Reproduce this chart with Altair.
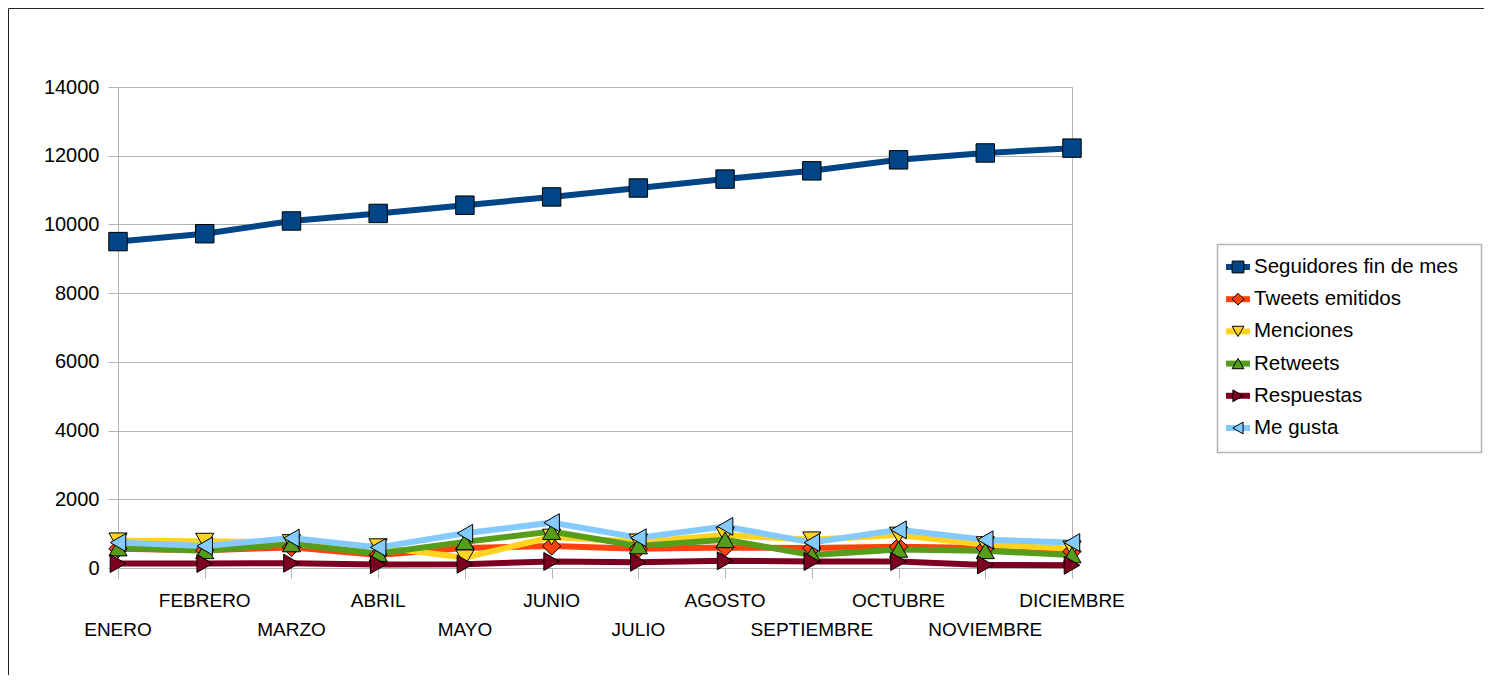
import altair as alt
import pandas as pd

months = ["ENERO", "FEBRERO", "MARZO", "ABRIL", "MAYO", "JUNIO", "JULIO",
          "AGOSTO", "SEPTIEMBRE", "OCTUBRE", "NOVIEMBRE", "DICIEMBRE"]
series = ["Seguidores fin de mes", "Tweets emitidos", "Menciones",
          "Retweets", "Respuestas", "Me gusta"]

seguidores = [9500, 9730, 10100, 10320, 10560, 10800, 11060, 11320, 11560, 11880, 12080, 12220]
tweets = [560, 520, 600, 380, 580, 640, 560, 600, 580, 620, 580, 480]
menciones = [790, 780, 740, 620, 300, 900, 760, 960, 820, 960, 680, 560]
retweets = [580, 500, 700, 420, 760, 1060, 640, 820, 380, 540, 500, 380]
respuestas = [130, 130, 140, 100, 110, 190, 170, 210, 190, 190, 90, 80]
me_gusta = [740, 640, 870, 600, 1010, 1320, 880, 1210, 740, 1110, 820, 740]

y_ticks = [0, 2000, 4000, 6000, 8000, 10000, 12000, 14000]

colors = ["#004586", "#ff420e", "#ffd320", "#579d1c", "#7e0021", "#83caff"]
shapes = ["square", "diamond", "triangle-down", "triangle-up", "triangle-right", "triangle-left"]
sizes = [340, 320, 390, 390, 390, 390]

all_vals = [seguidores, tweets, menciones, retweets, respuestas, me_gusta]
rows = []
for s_i, (name, vals) in enumerate(zip(series, all_vals)):
    for m_i, v in enumerate(vals):
        rows.append({"serie": name, "s": s_i, "i": m_i, "mes": months[m_i], "valor": v})
df = pd.DataFrame(rows)
months_df = pd.DataFrame({"i": list(range(len(months))), "mes": months})
legend_df = pd.DataFrame({"serie": series, "li": list(range(len(series)))})

FONT = "Liberation Sans"
GRID = "#b3b3b3"
W, H = 954, 481

x_scale = alt.Scale(domain=[0, 11], nice=False, zero=False)
x_axis = alt.Axis(values=list(range(12)), labels=False, tickSize=10, tickColor=GRID,
                  domainColor=GRID, grid=False, title=None)
x_enc = alt.X("i:Q", scale=x_scale, axis=x_axis)

y_scale = alt.Scale(domain=[0, 14000], nice=False)
y_axis = alt.Axis(values=y_ticks, format="d", grid=True, gridColor=GRID, tickSize=10,
                  tickColor=GRID, domainColor=GRID, labelFontSize=20, labelFont=FONT,
                  labelColor="black", labelPadding=9, title=None)

color_enc = alt.Color("serie:N", scale=alt.Scale(domain=series, range=colors), legend=None)
shape_enc = alt.Shape("serie:N", scale=alt.Scale(domain=series, range=shapes), legend=None)
size_enc = alt.Size("serie:N", scale=alt.Scale(domain=series, range=sizes), legend=None)

one = alt.Data(values=[{"a": 1}])

border = alt.Chart(one).mark_rect(filled=False, stroke="#222", strokeWidth=1).encode(
    x=alt.value(-109.5), x2=alt.value(1500), y=alt.value(-78.5), y2=alt.value(700))

legend_box = alt.Chart(one).mark_rect(fill="white", stroke=GRID, strokeWidth=1.5).encode(
    x=alt.value(1099.5), x2=alt.value(1363.5), y=alt.value(157.5), y2=alt.value(365.5))

lines = alt.Chart(df).mark_line(strokeWidth=6).encode(
    x=x_enc, y=alt.Y("valor:Q", scale=y_scale, axis=y_axis), color=color_enc,
    order="i:Q")

points = alt.Chart(df).mark_point(filled=True, stroke="black", strokeWidth=1, opacity=1).encode(
    x=x_enc, y=alt.Y("valor:Q", scale=y_scale, axis=None),
    color=color_enc, shape=shape_enc, size=size_enc)

label_base = alt.Chart(months_df).mark_text(fontSize=19, font=FONT, baseline="middle",
                                            align="center", color="black")
labels_top = label_base.transform_filter("datum.i % 2 == 1").encode(
    x=x_enc, y=alt.value(514), text="mes:N")
labels_bottom = label_base.transform_filter("datum.i % 2 == 0").encode(
    x=x_enc, y=alt.value(543), text="mes:N")

leg_scale = alt.Scale(domain=[0, 5], range=[180, 341])
leg_y = alt.Y("li:Q", scale=leg_scale, axis=None)

leg_lines = alt.Chart(legend_df).mark_rule(strokeWidth=6).encode(
    x=alt.value(1108), x2=alt.value(1132), y=leg_y, color=color_enc)
leg_points = alt.Chart(legend_df).mark_point(filled=True, stroke="black", strokeWidth=1,
                                             opacity=1, size=140).encode(
    x=alt.value(1120), y=leg_y, color=color_enc, shape=shape_enc)
leg_text = alt.Chart(legend_df).mark_text(fontSize=20.5, font=FONT, align="left",
                                          baseline="middle", color="black").encode(
    x=alt.value(1136), y=leg_y, text="serie:N")

chart = alt.layer(
    border, legend_box, lines, points, labels_top, labels_bottom,
    leg_lines, leg_points, leg_text
).resolve_scale(
    y="independent"
).properties(
    width=W, height=H,
    autosize=alt.AutoSizeParams(type="none"),
    padding={"left": 110, "top": 79, "right": 412, "bottom": 107},
    background="white",
).configure_view(stroke=GRID)

chart.save("out.html", embed_options={"renderer": "svg", "actions": False})
